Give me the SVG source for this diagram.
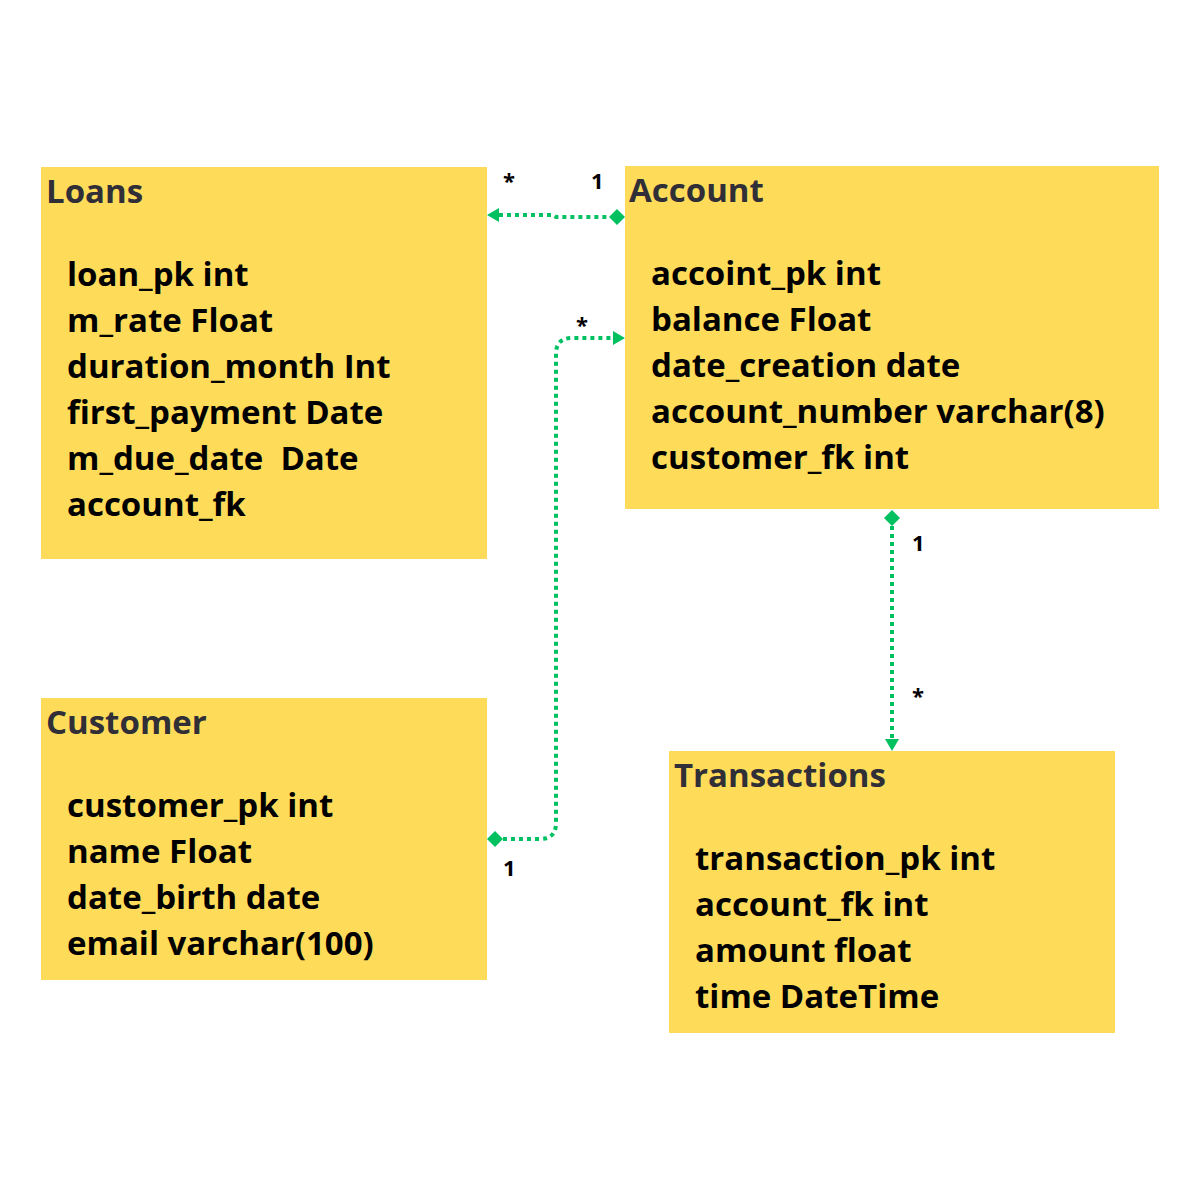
<svg xmlns="http://www.w3.org/2000/svg" width="1200" height="1200" viewBox="0 0 1200 1200">
<style>
.box{fill:#FEDC5A;}
.title{font-family:"Open Sans","Noto Sans",sans-serif;font-weight:700;font-size:33px;fill:#302e36;}
.field{font-family:"Open Sans","Noto Sans",sans-serif;font-weight:700;font-size:33px;fill:#000;}
.card{font-family:"Open Sans","Noto Sans",sans-serif;font-weight:700;font-size:22px;fill:#000;}
.conn{fill:none;stroke:#00C060;stroke-width:4;stroke-dasharray:4 4;}
.head{fill:#00C060;}
</style>
<rect x="0" y="0" width="1200" height="1200" fill="#fff"/>
<g id="loans">
<rect class="box" x="41" y="167" width="446" height="392"/>
<text class="title" x="46" y="203">Loans</text>
<text class="field" x="67" y="286">loan_pk int</text>
<text class="field" x="67" y="332">m_rate Float</text>
<text class="field" x="67" y="378">duration_month Int</text>
<text class="field" x="67" y="424">first_payment Date</text>
<text class="field" x="67" y="470" xml:space="preserve">m_due_date  Date</text>
<text class="field" x="67" y="516">account_fk</text>
</g>
<g id="account">
<rect class="box" x="625" y="166" width="534" height="343"/>
<text class="title" x="629" y="202">Account</text>
<text class="field" x="651" y="285">accoint_pk int</text>
<text class="field" x="651" y="331">balance Float</text>
<text class="field" x="651" y="377">date_creation date</text>
<text class="field" x="651" y="423">account_number varchar(8)</text>
<text class="field" x="651" y="469">customer_fk int</text>
</g>
<g id="customer">
<rect class="box" x="41" y="698" width="446" height="282"/>
<text class="title" x="46" y="734">Customer</text>
<text class="field" x="67" y="817">customer_pk int</text>
<text class="field" x="67" y="863">name Float</text>
<text class="field" x="67" y="909">date_birth date</text>
<text class="field" x="67" y="955">email varchar(100)</text>
</g>
<g id="transactions">
<rect class="box" x="669" y="751" width="446" height="282"/>
<text class="title" x="674" y="787">Transactions</text>
<text class="field" x="695" y="870">transaction_pk int</text>
<text class="field" x="695" y="916">account_fk int</text>
<text class="field" x="695" y="962">amount float</text>
<text class="field" x="695" y="1008">time DateTime</text>
</g>
<g id="connectors">
<path class="conn" d="M499 215 L553 215 L556 217 L610 217"/>
<polygon class="head" points="487,215 499,208 499,222"/>
<polygon class="head" points="609,217 617,209 625,217 617,225"/>
<path class="conn" d="M503 839 L540 839 Q556 839 556 823 L556 354 Q556 338 572 338 L613 338"/>
<polygon class="head" points="487,839 495,831 503,839 495,847"/>
<polygon class="head" points="625,338 613,331 613,345"/>
<path class="conn" d="M892 526 L892 739"/>
<polygon class="head" points="884,518 892,510 900,518 892,526"/>
<polygon class="head" points="892,751 885,739 899,739"/>
<text class="card" x="503" y="189">*</text>
<text class="card" x="591" y="189">1</text>
<text class="card" x="576" y="333">*</text>
<text class="card" x="503" y="876">1</text>
<text class="card" x="912" y="551">1</text>
<text class="card" x="912" y="704">*</text>
</g>
</svg>
